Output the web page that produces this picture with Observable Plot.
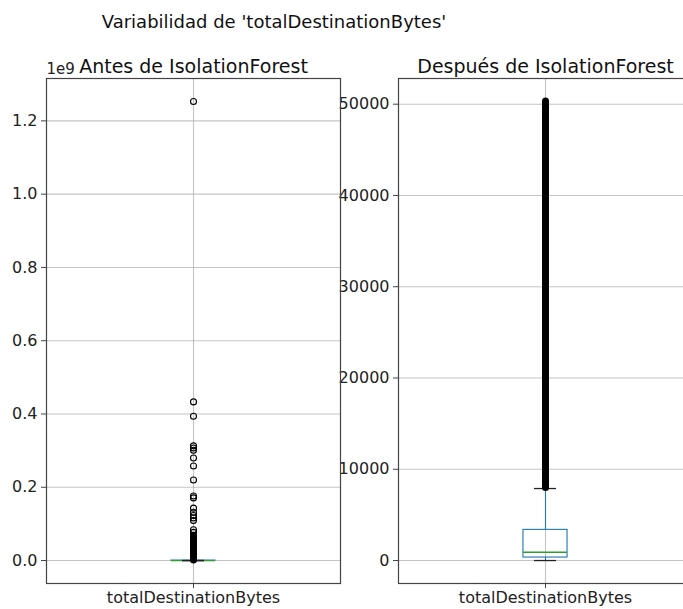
<!DOCTYPE html>
<html>
<head>
<meta charset="utf-8">
<script src="https://cdn.jsdelivr.net/npm/d3@7"></script>
<script src="https://cdn.jsdelivr.net/npm/@observablehq/plot@0.6"></script>
<style>
  html, body { margin: 0; padding: 0; background: white; }
  #wrap { position: relative; width: 683px; height: 609px; overflow: hidden; background: white; font-family: "DejaVu Sans", sans-serif; }
  #sup { position: absolute; top: 11px; left: 0; width: 548px; text-align: center; font-size: 18px; color: #111; }
  .panel { position: absolute; top: 0; }
</style>
</head>
<body>
<div id="wrap">
  <div id="sup">Variabilidad de 'totalDestinationBytes'</div>
  <div id="p2" class="panel" style="left:330px"></div>
  <div id="p1" class="panel" style="left:0px"></div>
</div>
<script>
// ---- data ----
const category = "totalDestinationBytes";
const titles = ["Antes de IsolationForest", "Después de IsolationForest"];

// Before IsolationForest (bytes)
const beforeStats = { q1: 200, median: 900, q3: 3400, whiskerLo: 0, whiskerHi: 8000 };
const beforeOutliers = [1.253e9, 0.433e9, 0.394e9, 0.313e9, 0.307e9, 0.301e9, 0.280e9, 0.258e9,
  0.220e9, 0.176e9, 0.171e9, 0.143e9, 0.132e9, 0.123e9, 0.116e9, 0.109e9, 0.084e9, 0.077e9];
const beforeDenseOutliers = [0.0001e9, 0.068e9]; // continuous run of overlapping fliers
const beforeTicks = [0, 0.2e9, 0.4e9, 0.6e9, 0.8e9, 1.0e9, 1.2e9];

// After IsolationForest (bytes)
const afterStats = { q1: 330, median: 910, q3: 3360, whiskerLo: 0, whiskerHi: 7890 };
const afterOutliers = [];
const afterDenseOutliers = [7950, 50300];
const afterTicks = [0, 10000, 20000, 30000, 40000, 50000];

function panel({ stats, outliers, dense, ticks, tickFormat, title, width, marginLeft, offsetLabel }) {
  const lo = Math.min(stats.whiskerLo, ...dense, ...outliers);
  const hi = Math.max(stats.whiskerHi, ...dense, ...outliers);
  const pad = (hi - lo) * 0.05;
  const row = [{ pos: 1, ...stats }];
  const boxHalf = 0.075, capHalf = 0.0375;
  const marks = [
    Plot.gridY(ticks, { stroke: "#b0b0b0", strokeOpacity: 0.75, strokeWidth: 1.1 }),
    Plot.gridX([1], { stroke: "#b0b0b0", strokeOpacity: 0.75, strokeWidth: 1.1 }),
    Plot.ruleX(row, { x: "pos", y1: "q3", y2: "whiskerHi", stroke: "#1f77b4", strokeWidth: 1.1 }),
    Plot.ruleX(row, { x: "pos", y1: "whiskerLo", y2: "q1", stroke: "#1f77b4", strokeWidth: 1.1 }),
    Plot.rect(row, { x1: d => d.pos - boxHalf, x2: d => d.pos + boxHalf, y1: "q1", y2: "q3", fill: "none", stroke: "#1f77b4", strokeWidth: 1.1 }),
    Plot.ruleY(row, { y: "median", x1: d => d.pos - boxHalf, x2: d => d.pos + boxHalf, stroke: "#2ca02c", strokeWidth: 1.3 }),
    Plot.ruleY(row, { y: "whiskerHi", x1: d => d.pos - capHalf, x2: d => d.pos + capHalf, stroke: "#222", strokeWidth: 1.3 }),
    Plot.ruleY(row, { y: "whiskerLo", x1: d => d.pos - capHalf, x2: d => d.pos + capHalf, stroke: "#222", strokeWidth: 1.3 }),
    Plot.ruleX([{ pos: 1, a: dense[0], b: dense[1] }], { x: "pos", y1: "a", y2: "b", stroke: "black", strokeWidth: 7, strokeLinecap: "round" }),
    Plot.dot(outliers, { x: () => 1, y: d => d, r: 3, stroke: "black", strokeWidth: 1.1, fill: "none" }),
    Plot.frame({ stroke: "#444", strokeWidth: 1.2 }),
    Plot.axisY(ticks, { tickFormat, tickSize: 5, tickPadding: 4, fontSize: 16, stroke: "#444", fill: "#222", label: null }),
    Plot.axisX([1], { tickFormat: () => category, tickSize: 5, tickPadding: 3, fontSize: 16, stroke: "#444", fill: "#222", label: null }),
    Plot.text([title], { frameAnchor: "top", fontSize: 19, fill: "#111", lineAnchor: "bottom", dy: -6 })
  ];
  if (offsetLabel) {
    marks.push(Plot.text([offsetLabel], { frameAnchor: "top-left", textAnchor: "start", lineAnchor: "bottom", dy: -5, dx: 0, fontSize: 15, fill: "#222" }));
  }
  return Plot.plot({
    width, height: 609,
    marginLeft, marginRight: 10, marginTop: 78, marginBottom: 26,
    style: { fontFamily: "DejaVu Sans", fontSize: "16px", background: "transparent", overflow: "visible", maxWidth: "none" },
    x: { domain: [0.5, 1.5], axis: null },
    y: { domain: [lo - pad, hi + pad], axis: null },
    marks
  });
}

document.getElementById("p1").append(panel({
  stats: beforeStats, outliers: beforeOutliers, dense: beforeDenseOutliers, ticks: beforeTicks,
  tickFormat: d => (d / 1e9).toFixed(1), title: titles[0], width: 350, marginLeft: 46, offsetLabel: "1e9"
}));
document.getElementById("p2").append(panel({
  stats: afterStats, outliers: afterOutliers, dense: afterDenseOutliers, ticks: afterTicks,
  tickFormat: d => String(d), title: titles[1], width: 372, marginLeft: 68
}));
</script>
</body>
</html>
